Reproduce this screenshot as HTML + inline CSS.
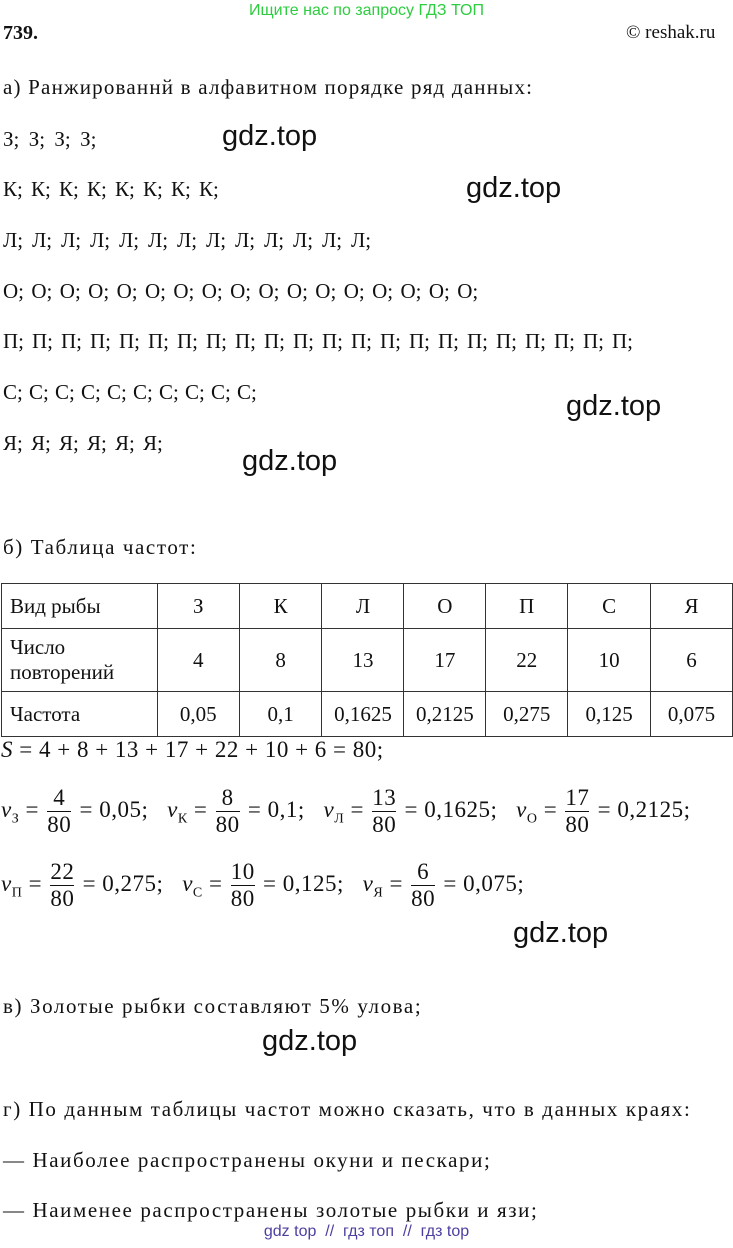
<!DOCTYPE html>
<html><head><meta charset="utf-8"><style>
body{margin:0;width:733px;height:1248px;background:#fff;position:relative;overflow:hidden;font-family:"Liberation Serif","DejaVu Serif",serif;color:#111;}
.a{position:absolute;white-space:nowrap;font-size:21px;letter-spacing:1.6px;}
.r{position:absolute;white-space:nowrap;font-size:21px;left:3px;}
.r span{display:inline-block;}
.g{position:absolute;font-family:"Liberation Sans",sans-serif;font-size:29px;color:#111;}
table{position:absolute;left:1px;top:583px;border-collapse:collapse;font-size:21px;}
td{border:1.5px solid #333;text-align:center;padding:0;}
td.f{text-align:left;padding-left:8px;}
.fr{display:inline-block;vertical-align:middle;text-align:center;line-height:26px;margin:0 2px;}
.fr span{display:block;}
.fr .n{border-bottom:1.5px solid #111;}
.m{position:absolute;white-space:nowrap;font-size:23px;letter-spacing:0.5px;}
i{font-style:italic;}
sub{font-size:14px;}
</style></head><body>
<div class="a" style="left:0;width:733px;text-align:center;top:2px;font-family:'Liberation Sans',sans-serif;font-size:16px;letter-spacing:0;color:#2ecc40">Ищите нас по запросу ГДЗ ТОП</div>
<div class="a" style="left:3px;top:22px;font-weight:bold;font-size:20px;letter-spacing:0">739.</div>
<div class="a" style="left:626px;top:22px;font-size:19px;letter-spacing:0">© reshak.ru</div>
<div class="a" style="left:3px;top:75px;letter-spacing:1.2px">а) Ранжированнй в алфавитном порядке ряд данных:</div>
<div class="r" style="top:127px"><span style="width:25.7px">З;</span><span style="width:25.7px">З;</span><span style="width:25.7px">З;</span><span>З;</span></div>
<div class="r" style="top:177px"><span style="width:28px">К;</span><span style="width:28px">К;</span><span style="width:28px">К;</span><span style="width:28px">К;</span><span style="width:28px">К;</span><span style="width:28px">К;</span><span style="width:28px">К;</span><span>К;</span></div>
<div class="r" style="top:228px"><span style="width:29px">Л;</span><span style="width:29px">Л;</span><span style="width:29px">Л;</span><span style="width:29px">Л;</span><span style="width:29px">Л;</span><span style="width:29px">Л;</span><span style="width:29px">Л;</span><span style="width:29px">Л;</span><span style="width:29px">Л;</span><span style="width:29px">Л;</span><span style="width:29px">Л;</span><span style="width:29px">Л;</span><span>Л;</span></div>
<div class="r" style="top:279px"><span style="width:28.4px">О;</span><span style="width:28.4px">О;</span><span style="width:28.4px">О;</span><span style="width:28.4px">О;</span><span style="width:28.4px">О;</span><span style="width:28.4px">О;</span><span style="width:28.4px">О;</span><span style="width:28.4px">О;</span><span style="width:28.4px">О;</span><span style="width:28.4px">О;</span><span style="width:28.4px">О;</span><span style="width:28.4px">О;</span><span style="width:28.4px">О;</span><span style="width:28.4px">О;</span><span style="width:28.4px">О;</span><span style="width:28.4px">О;</span><span>О;</span></div>
<div class="r" style="top:329px"><span style="width:29px">П;</span><span style="width:29px">П;</span><span style="width:29px">П;</span><span style="width:29px">П;</span><span style="width:29px">П;</span><span style="width:29px">П;</span><span style="width:29px">П;</span><span style="width:29px">П;</span><span style="width:29px">П;</span><span style="width:29px">П;</span><span style="width:29px">П;</span><span style="width:29px">П;</span><span style="width:29px">П;</span><span style="width:29px">П;</span><span style="width:29px">П;</span><span style="width:29px">П;</span><span style="width:29px">П;</span><span style="width:29px">П;</span><span style="width:29px">П;</span><span style="width:29px">П;</span><span style="width:29px">П;</span><span>П;</span></div>
<div class="r" style="top:380px"><span style="width:26px">С;</span><span style="width:26px">С;</span><span style="width:26px">С;</span><span style="width:26px">С;</span><span style="width:26px">С;</span><span style="width:26px">С;</span><span style="width:26px">С;</span><span style="width:26px">С;</span><span style="width:26px">С;</span><span>С;</span></div>
<div class="r" style="top:431px"><span style="width:28px">Я;</span><span style="width:28px">Я;</span><span style="width:28px">Я;</span><span style="width:28px">Я;</span><span style="width:28px">Я;</span><span>Я;</span></div>
<div class="g" style="left:222px;top:120px">gdz.top</div>
<div class="g" style="left:466px;top:172px">gdz.top</div>
<div class="g" style="left:566px;top:390px">gdz.top</div>
<div class="g" style="left:242px;top:445px">gdz.top</div>
<div class="a" style="left:3px;top:535px">б) Таблица частот:</div>
<table>
<tr style="height:45px"><td class="f" style="width:147px">Вид рыбы</td><td style="width:81px">З</td><td style="width:82px">К</td><td style="width:81px">Л</td><td style="width:81px">О</td><td style="width:81px">П</td><td style="width:82px">С</td><td style="width:81px">Я</td></tr>
<tr style="height:63px"><td class="f" style="line-height:25px">Число<br>повторений</td><td>4</td><td>8</td><td>13</td><td>17</td><td>22</td><td>10</td><td>6</td></tr>
<tr style="height:45px"><td class="f">Частота</td><td>0,05</td><td>0,1</td><td>0,1625</td><td>0,2125</td><td>0,275</td><td>0,125</td><td>0,075</td></tr>
</table>
<div class="m" style="left:1px;top:737px"><i>S</i> = 4 + 8 + 13 + 17 + 22 + 10 + 6 = 80;</div>
<div class="m" style="left:1px;top:785px"><i>v</i><sub>З</sub> = <span class="fr"><span class="n">4</span><span>80</span></span> = 0,05;&nbsp;&nbsp; <i>v</i><sub>К</sub> = <span class="fr"><span class="n">8</span><span>80</span></span> = 0,1;&nbsp;&nbsp; <i>v</i><sub>Л</sub> = <span class="fr"><span class="n">13</span><span>80</span></span> = 0,1625;&nbsp;&nbsp; <i>v</i><sub>О</sub> = <span class="fr"><span class="n">17</span><span>80</span></span> = 0,2125;</div>
<div class="m" style="left:1px;top:859px"><i>v</i><sub>П</sub> = <span class="fr"><span class="n">22</span><span>80</span></span> = 0,275;&nbsp;&nbsp; <i>v</i><sub>С</sub> = <span class="fr"><span class="n">10</span><span>80</span></span> = 0,125;&nbsp;&nbsp; <i>v</i><sub>Я</sub> = <span class="fr"><span class="n">6</span><span>80</span></span> = 0,075;</div>
<div class="g" style="left:513px;top:917px">gdz.top</div>
<div class="a" style="left:3px;top:994px">в) Золотые рыбки составляют 5% улова;</div>
<div class="g" style="left:262px;top:1025px">gdz.top</div>
<div class="a" style="left:3px;top:1097px">г) По данным таблицы частот можно сказать, что в данных краях:</div>
<div class="a" style="left:3px;top:1148px">— Наиболее распространены окуни и пескари;</div>
<div class="a" style="left:3px;top:1198px">— Наименее распространены золотые рыбки и язи;</div>
<div class="a" style="left:0;width:733px;text-align:center;top:1223px;font-family:'Liberation Sans',sans-serif;font-size:16px;letter-spacing:0;color:#4b3fa0">gdz top&nbsp; //&nbsp; гдз топ&nbsp; //&nbsp; гдз top</div>
</body></html>
